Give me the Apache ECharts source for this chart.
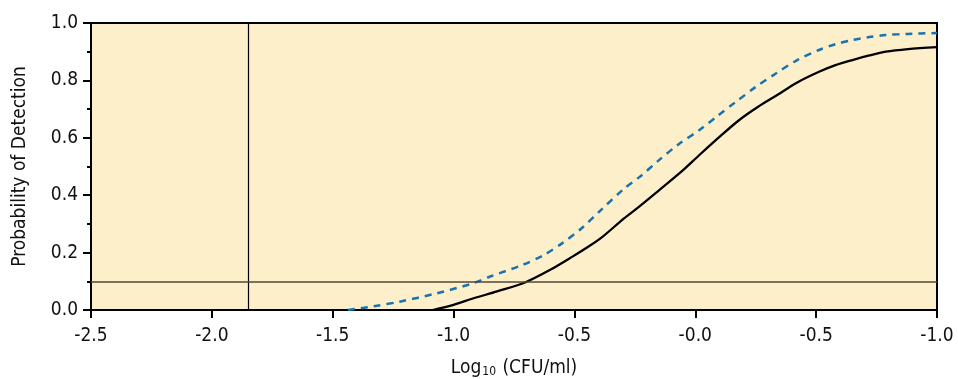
<!DOCTYPE html>
<html><head><meta charset="utf-8">
<script src="https://cdn.jsdelivr.net/npm/echarts@6/dist/echarts.min.js"></script>
<style>html,body{margin:0;padding:0;background:#fff}#c{width:958px;height:379px}</style>
</head><body><div id="c"></div>
<script>
// Tick labels as printed on the original x axis
const xTickLabels = ['-2.5', '-2.0', '-1.5', '-1.0', '-0.5', '-0.0', '-0.5', '-1.0'];
// Solid curve (x position along axis, probability)
const solidX = [-1.087, -1.0, -0.92, -0.82, -0.707, -0.6, -0.508, -0.44, -0.384, -0.302, -0.24, -0.149, -0.06, 0.017, 0.1, 0.182, 0.26, 0.339, 0.42, 0.512, 0.58, 0.65, 0.72, 0.788, 0.88, 1.0];
const solidY = [0.0, 0.018, 0.04, 0.065, 0.095, 0.14, 0.186, 0.222, 0.255, 0.314, 0.355, 0.418, 0.48, 0.54, 0.603, 0.662, 0.708, 0.749, 0.792, 0.83, 0.853, 0.871, 0.887, 0.9, 0.909, 0.916];
// Dashed curve
const dashX = [-1.437, -1.33, -1.223, -1.07, -0.92, -0.851, -0.715, -0.63, -0.55, -0.47, -0.397, -0.293, -0.231, -0.149, -0.07, 0.017, 0.09, 0.169, 0.25, 0.335, 0.42, 0.512, 0.58, 0.65, 0.72, 0.788, 0.88, 1.0];
const dashY = [0.0, 0.013, 0.029, 0.058, 0.093, 0.116, 0.157, 0.19, 0.233, 0.285, 0.343, 0.424, 0.463, 0.523, 0.577, 0.627, 0.675, 0.726, 0.777, 0.825, 0.87, 0.906, 0.926, 0.941, 0.951, 0.958, 0.962, 0.965];
const limitX = -1.85;
const limitY = 0.095;

const FONT = '"DejaVu Sans Condensed", "Liberation Sans Narrow", sans-serif';
const zip = (xs, ys) => xs.map((x, i) => [x, ys[i]]);

const chart = echarts.init(document.getElementById('c'), null, {renderer: 'canvas'});
chart.setOption({
  animation: false,
  backgroundColor: '#ffffff',
  grid: {left: 91, right: 21, top: 23, bottom: 69, show: true, outerBoundsMode: 'none',
         backgroundColor: '#fdefc9', borderColor: '#000', borderWidth: 2, containLabel: false},
  xAxis: {
    type: 'value', min: -2.5, max: 1.0, interval: 0.5,
    name: '{a|Log}{s|10}{a| (CFU/ml)}', nameLocation: 'middle', nameGap: 46,
    nameTextStyle: {rich: {
      a: {fontFamily: FONT, fontSize: 19, color: '#111', verticalAlign: 'bottom', lineHeight: 22},
      s: {fontFamily: FONT, fontSize: 12, color: '#111', verticalAlign: 'bottom', lineHeight: 16, padding: [0, 1, 0, 1]}
    }},
    axisLine: {show: true, onZero: false, lineStyle: {color: '#000', width: 2}},
    axisTick: {show: true, length: 8, lineStyle: {color: '#000', width: 2}},
    axisLabel: {fontFamily: FONT, fontSize: 19, color: '#111', margin: 17,
      formatter: v => xTickLabels[Math.round((v + 2.5) / 0.5)]},
    splitLine: {show: false}
  },
  yAxis: {
    type: 'value', min: 0, max: 1, interval: 0.2,
    name: 'Probability of Detection', nameLocation: 'middle', nameGap: 61,
    nameTextStyle: {fontFamily: FONT, fontSize: 19, color: '#111'},
    axisLine: {show: true, onZero: false, lineStyle: {color: '#000', width: 2}},
    axisTick: {show: true, length: 8, lineStyle: {color: '#000', width: 2}},
    minorTick: {show: true, splitNumber: 2, length: 4, lineStyle: {color: '#000', width: 2}},
    axisLabel: {fontFamily: FONT, fontSize: 19, color: '#111', margin: 13,
      formatter: v => v.toFixed(1)},
    splitLine: {show: false}
  },
  series: [
    {type: 'line', data: zip(dashX, dashY), smooth: 0.3, symbol: 'none', z: 3,
     lineStyle: {color: '#1a72ae', width: 2.5, type: [7, 6]}},
    {type: 'line', data: zip(solidX, solidY), smooth: 0.3, symbol: 'none', z: 4,
     lineStyle: {color: '#000', width: 2.3},
     markLine: {silent: true, symbol: ['none', 'none'], label: {show: false},
       data: [
         {xAxis: limitX, lineStyle: {color: '#000', width: 1.2, type: 'solid'}},
         {yAxis: limitY, lineStyle: {color: '#4f4836', width: 1.5, type: 'solid'}}
       ]}}
  ]
});
</script></body></html>
